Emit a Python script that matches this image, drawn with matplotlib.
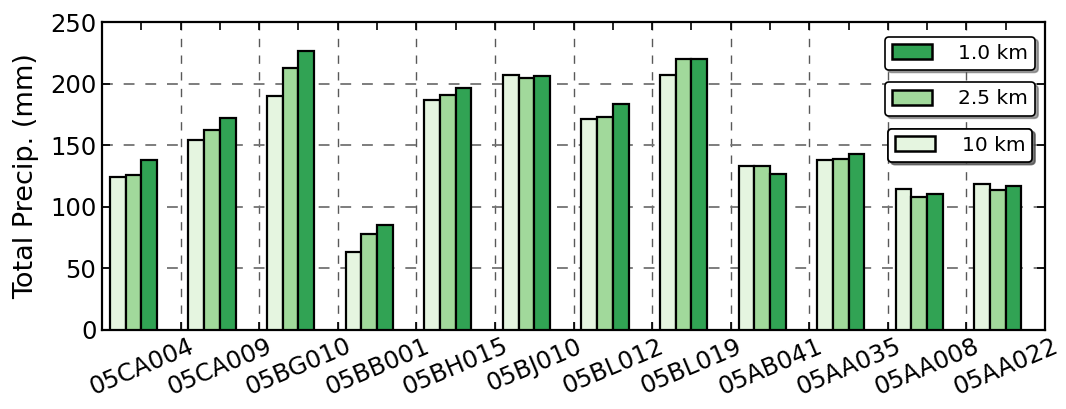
import matplotlib
matplotlib.use("Agg")
import matplotlib.pyplot as plt
import numpy as np
from matplotlib.patches import Patch

stations = ["05CA004", "05CA009", "05BG010", "05BB001", "05BH015", "05BJ010",
            "05BL012", "05BL019", "05AB041", "05AA035", "05AA008", "05AA022"]
res_labels = ["10 km", "2.5 km", "1.0 km"]
precip_10km = [124.4, 154.0, 189.7, 63.6, 186.7, 206.7, 171.0, 207.0, 133.1, 138.0, 114.2, 118.8]
precip_2p5km = [125.5, 162.3, 212.4, 78.2, 190.5, 204.5, 172.6, 220.0, 133.4, 138.5, 108.2, 113.4]
precip_1km = [138.0, 171.8, 226.5, 85.2, 196.2, 206.2, 183.4, 220.2, 126.9, 142.9, 110.1, 117.2]
colors = ["#e5f5e0", "#a1d99b", "#31a354"]
yticks = [0, 50, 100, 150, 200, 250]

fig = plt.figure(figsize=(10.66, 4.09), dpi=100)
ax = fig.add_axes([0.0957, 0.1932, 0.8846, 0.753])

x = np.arange(len(stations))
w = 0.2
series = [precip_10km, precip_2p5km, precip_1km]
for k, vals in enumerate(series):
    ax.bar(x + 0.1 + k * w, vals, width=w, align="edge", color=colors[k],
           edgecolor="black", linewidth=1.6, zorder=3)

ax.set_xlim(0, 12)
ax.set_ylim(0, 250)
ax.set_yticks(yticks)
ax.set_xticks(x + 0.5)
ax.set_xticklabels(stations, rotation=23, ha="center", fontsize=17.5)
ax.set_xticks(np.arange(1, 12), minor=True)
ax.tick_params(axis="both", which="both", direction="in", top=True, right=True,
               length=6, width=1.2)
ax.tick_params(axis="y", labelsize=17.5, pad=4)
ax.tick_params(axis="x", which="major", pad=3)
ax.set_axisbelow(True)
ax.grid(True, axis="y", which="major", linestyle=(0, (6, 6)), color="0.45", linewidth=1.3)
ax.grid(True, axis="x", which="minor", linestyle=(0, (6, 6)), color="0.35", linewidth=1.0)
ax.grid(False, axis="x", which="major")
for s in ax.spines.values():
    s.set_linewidth(1.6)
ax.set_ylabel("Total Precip. (mm)", fontsize=19.5, labelpad=8)

# three stacked single-entry legends
order = [2, 1, 0]
ypos = [0.899, 0.75, 0.60]
for idx, yy in zip(order, ypos):
    h = Patch(facecolor=colors[idx], edgecolor="black", linewidth=1.8)
    leg = ax.legend([h], [res_labels[idx]], loc="center", bbox_to_anchor=(0.91, yy),
                    fontsize=14.5, frameon=True, fancybox=True, shadow=True,
                    framealpha=1, handlelength=2.0, handleheight=0.75,
                    borderpad=0.35, handletextpad=1.3, borderaxespad=0)
    leg.get_frame().set_edgecolor("black")
    leg.get_frame().set_linewidth(1.2)
    ax.add_artist(leg)

fig.savefig("out.png", dpi=100)
